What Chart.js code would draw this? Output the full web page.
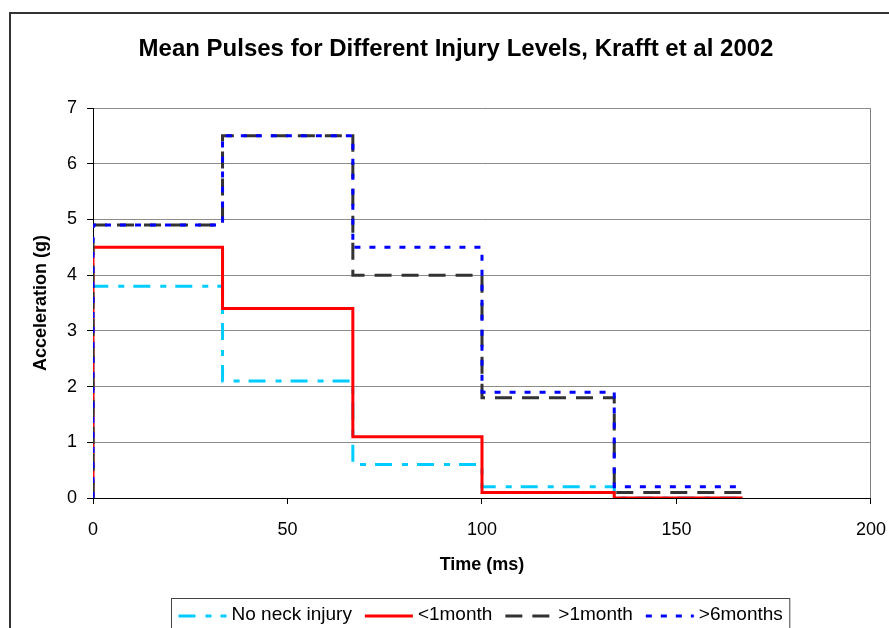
<!DOCTYPE html>
<html>
<head>
<meta charset="utf-8">
<title>Mean Pulses for Different Injury Levels</title>
<script src="https://cdn.jsdelivr.net/npm/chart.js@4.4.1/dist/chart.umd.min.js"></script>
<style>
  html, body { margin: 0; padding: 0; background: #fff; overflow: hidden; }
  #wrap { width: 889px; height: 628px; overflow: hidden; }
</style>
</head>
<body>
<div id="wrap"><canvas id="pulses" width="901" height="628"></canvas></div>
<script>
// Pulse interval edges (ms) and mean acceleration (g) for each interval
const edgeTimes = [0, 33.3, 66.8, 100, 134, 167];
const seriesLabels = ['No neck injury', '<1month', '>1month', '>6months'];
const noNeckInjury = [3.8, 2.1, 0.6, 0.2, 0];
const underOneMonth = [4.5, 3.4, 1.1, 0.1, 0];
const overOneMonth = [4.9, 6.5, 4.0, 1.8, 0.1];
const overSixMonths = [4.9, 6.5, 4.5, 1.9, 0.2];
const timeTicks = [0, 50, 100, 150, 200];
const accelTicks = [0, 1, 2, 3, 4, 5, 6, 7];

const chartTitle = 'Mean Pulses for Different Injury Levels, Krafft et al 2002';
const FONT = "'Liberation Sans', Arial, sans-serif";

const estilos = [
  { color: '#00CCFF', dash: [17, 10, 6, 9] },
  { color: '#FF0000', dash: [] },
  { color: '#333333', dash: [17, 10] },
  { color: '#0000FF', dash: [6, 9] }
];

// step curve: starts at 0 g, holds each value until the next edge
function pulsePoints(values) {
  const pts = [{ x: edgeTimes[0], y: 0 }];
  values.forEach((v, i) => pts.push({ x: edgeTimes[i], y: v }));
  pts.push({ x: edgeTimes[edgeTimes.length - 1], y: values[values.length - 1] });
  return pts;
}

const series = [noNeckInjury, underOneMonth, overOneMonth, overSixMonths];

const datasets = series.map((vals, i) => ({
  label: seriesLabels[i],
  data: pulsePoints(vals),
  borderColor: estilos[i].color,
  backgroundColor: estilos[i].color,
  borderWidth: 3,
  borderDash: estilos[i].dash,
  borderCapStyle: 'butt',
  borderJoinStyle: 'miter',
  stepped: 'before',
  pointRadius: 0,
  fill: false,
  order: series.length - i   // later series on top
}));

// outer frame, title and boxed legend
const moldura = {
  id: 'moldura',
  beforeDraw(chart) {
    const ctx = chart.ctx;
    ctx.save();
    ctx.fillStyle = '#fff';
    ctx.fillRect(0, 0, chart.width, chart.height);
    ctx.strokeStyle = '#333';
    ctx.lineWidth = 2;
    ctx.strokeRect(10, 13, 900, 700);
    ctx.restore();
  },
  afterDraw(chart) {
    const ctx = chart.ctx;
    ctx.save();
    ctx.fillStyle = '#000';
    ctx.font = `bold 24px ${FONT}`;
    ctx.textAlign = 'center';
    ctx.textBaseline = 'middle';
    ctx.fillText(chartTitle, 456, 49);

    ctx.font = `19px ${FONT}`;
    const amostra = 48, gapTexto = 5, gapItem = 13, padX = 7;
    const larguras = seriesLabels.map(t => ctx.measureText(t).width);
    const total = larguras.reduce((a, w) => a + amostra + gapTexto + w, 0) + gapItem * (seriesLabels.length - 1);
    const cx = 480.5;
    const boxLeft = Math.round(cx - total / 2 - padX) + 0.5;
    ctx.strokeStyle = '#444';
    ctx.lineWidth = 1;
    ctx.strokeRect(boxLeft, 598.5, total + padX * 2, 60);

    let x = boxLeft + padX;
    ctx.textAlign = 'left';
    seriesLabels.forEach((t, i) => {
      ctx.strokeStyle = estilos[i].color;
      ctx.lineWidth = 3;
      ctx.setLineDash(estilos[i].dash);
      ctx.beginPath();
      ctx.moveTo(x, 616);
      ctx.lineTo(x + amostra, 616);
      ctx.stroke();
      ctx.setLineDash([]);
      ctx.fillText(t, x + amostra + gapTexto, 615);
      x += amostra + gapTexto + larguras[i] + gapItem;
    });
    ctx.restore();
  }
};

new Chart(document.getElementById('pulses'), {
  type: 'line',
  data: { datasets },
  options: {
    responsive: false,
    animation: false,
    devicePixelRatio: 1,
    layout: { padding: { left: 0, right: 19, top: 108, bottom: 50 } },
    plugins: {
      legend: { display: false },
      title: { display: false },
      tooltip: { enabled: false }
    },
    scales: {
      x: {
        type: 'linear',
        min: 0,
        max: 200,
        afterBuildTicks: s => { s.ticks = timeTicks.map(v => ({ value: v })); },
        afterFit: s => { s.height = 80; },
        ticks: { color: '#000', font: { family: FONT, size: 18 }, padding: 15, maxRotation: 0 },
        grid: {
          drawOnChartArea: true,
          color: c => (c.tick && c.tick.value === 200 ? '#808080' : 'rgba(0,0,0,0)'),
          tickColor: '#000',
          tickLength: 6
        },
        border: { color: '#000', width: 1 },
        title: {
          display: true,
          text: 'Time (ms)',
          color: '#000',
          font: { family: FONT, size: 18, weight: 'bold' },
          padding: { top: 0, bottom: 2 }
        }
      },
      y: {
        type: 'linear',
        min: 0,
        max: 7,
        afterBuildTicks: s => { s.ticks = accelTicks.map(v => ({ value: v })); },
        afterFit: s => { s.width = 93; },
        ticks: { color: '#000', font: { family: FONT, size: 18 }, padding: 10 },
        grid: {
          color: c => (c.tick && c.tick.value === 0 ? 'rgba(0,0,0,0)' : '#8c8c8c'),
          tickColor: '#000',
          tickLength: 6
        },
        border: { color: '#000', width: 1 },
        title: {
          display: true,
          text: 'Acceleration (g)',
          color: '#000',
          font: { family: FONT, size: 18, weight: 'bold' },
          padding: { top: 30, bottom: 0 }
        }
      }
    }
  },
  plugins: [moldura]
});
</script>
</body>
</html>
